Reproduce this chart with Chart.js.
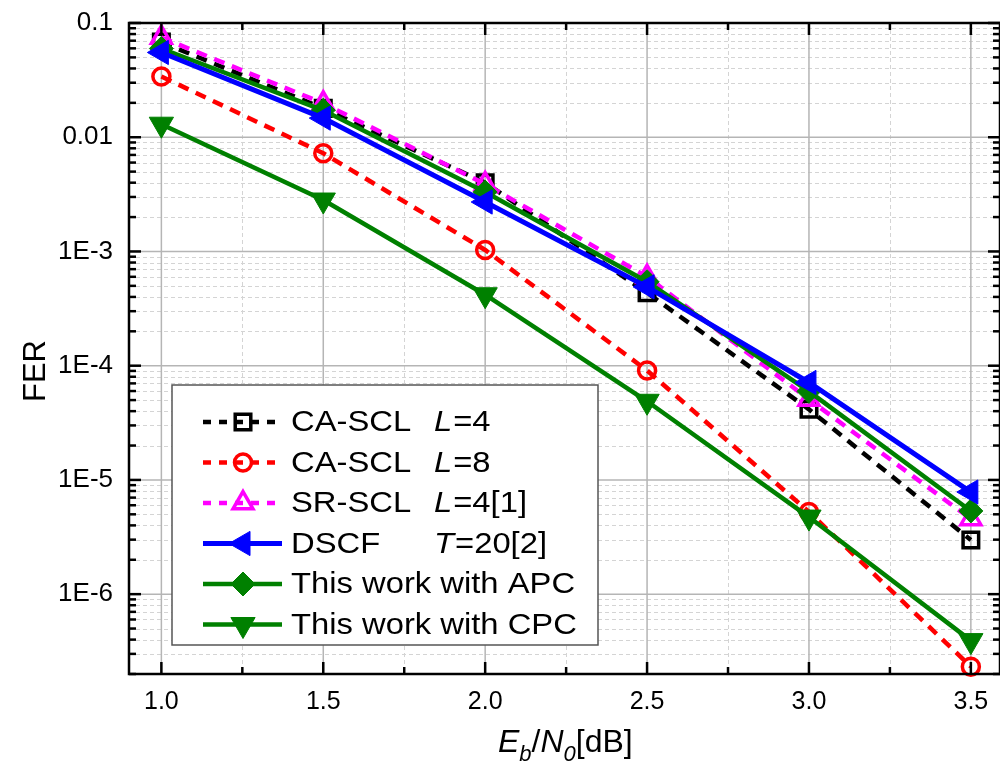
<!DOCTYPE html>
<html><head><meta charset="utf-8">
<script src="https://cdn.jsdelivr.net/npm/chart.js@4/dist/chart.umd.min.js"></script>
<style>html,body{margin:0;padding:0;background:#fff;overflow:hidden}canvas{display:block}</style>
</head><body><canvas id="c" width="1000" height="762"></canvas>
<script>
const ebno = [1.0, 1.5, 2.0, 2.5, 3.0, 3.5];
const caScl4 = [0.068, 0.0179, 0.0040, 4.35e-4, 4.15e-5, 2.98e-6];
const caScl8 = [0.034, 7.24e-3, 1.03e-3, 9.08e-5, 5.24e-6, 2.32e-7];
const srScl4 = [0.0746, 0.0198, 3.89e-3, 6.0e-4, 5.07e-5, 4.55e-6];
const dscf = [0.0552, 0.0147, 2.71e-3, 4.9e-4, 7.13e-5, 7.83e-6];
const apc = [0.0598, 0.0172, 3.31e-3, 5.43e-4, 5.96e-5, 5.35e-6];
const cpc = [0.013, 2.82e-3, 4.18e-4, 4.88e-5, 4.73e-6, 3.92e-7];
const xTicks = [1.0, 1.5, 2.0, 2.5, 3.0, 3.5];
const xMinorTicks = [1.25, 1.75, 2.25, 2.75, 3.25];
const yTicks = [0.1, 0.01, 1e-3, 1e-4, 1e-5, 1e-6];
const yTickLabels = ['0.1', '0.01', '1E-3', '1E-4', '1E-5', '1E-6'];
const legendNames = ['CA-SCL', 'CA-SCL', 'SR-SCL', 'DSCF', 'This work with APC', 'This work with CPC'];
const legendParamVar = ['L', 'L', 'L', 'T', '', ''];
const legendParamRest = ['=4', '=8', '=4[1]', '=20[2]', '', ''];
const drawOrder = [10, 9, 8, 6, 7, 5];

const FONT = '"Liberation Sans", Arial, sans-serif';
const GREEN = '#008000';

function pts(ys){ return ebno.map((x,i)=>({x, y: ys[i]})); }

const yMinor = [];
for (let k = -7; k <= -2; k++) for (let m = 2; m <= 9; m++) {
  const v = m * Math.pow(10, k);
  if (v >= 2e-7 && v < 0.1) yMinor.push(v);
}

function stretchText(ctx, t, x, y, font, sx) {
  ctx.save(); ctx.font = font; ctx.translate(x, y); ctx.scale(sx, 1); ctx.fillText(t, 0, 0);
  const w = ctx.measureText(t).width * sx; ctx.restore(); return w;
}

const decoPlugin = {
  id: 'deco',
  beforeDatasetsDraw(chart) {
    const {ctx, chartArea: a, scales: {x, y}} = chart;
    ctx.save();
    const ln = (x1,y1,x2,y2)=>{ctx.beginPath();ctx.moveTo(x1,y1);ctx.lineTo(x2,y2);ctx.stroke();};
    ctx.strokeStyle = '#d4d4d4'; ctx.lineWidth = 1; ctx.setLineDash([4,3]);
    xMinorTicks.forEach(v=>{const p=Math.round(x.getPixelForValue(v))+0.5; ln(p,a.top,p,a.bottom);});
    yMinor.forEach(v=>{const p=Math.round(y.getPixelForValue(v))+0.5; ln(a.left,p,a.right,p);});
    ctx.setLineDash([]); ctx.strokeStyle = '#b5b5b5'; ctx.lineWidth = 1.5;
    xTicks.forEach(v=>{const p=x.getPixelForValue(v); ln(p,a.top,p,a.bottom);});
    yTicks.forEach(v=>{const p=y.getPixelForValue(v); ln(a.left,p,a.right,p);});
    ctx.restore();
  },
  afterDatasetsDraw(chart) {
    const {ctx, chartArea: a, scales: {x, y}} = chart;
    ctx.save();
    const ln = (x1,y1,x2,y2)=>{ctx.beginPath();ctx.moveTo(x1,y1);ctx.lineTo(x2,y2);ctx.stroke();};
    ctx.strokeStyle = '#000'; ctx.lineWidth = 2.5; ctx.setLineDash([]);
    xTicks.forEach(v=>{const p=x.getPixelForValue(v); ln(p,a.bottom,p,a.bottom-12); ln(p,a.top,p,a.top+12);});
    xMinorTicks.forEach(v=>{const p=x.getPixelForValue(v); ln(p,a.bottom,p,a.bottom-7); ln(p,a.top,p,a.top+7);});
    yTicks.forEach(v=>{const p=y.getPixelForValue(v); ln(a.left,p,a.left+12,p); ln(a.right,p,a.right-12,p);});
    yMinor.forEach(v=>{const p=y.getPixelForValue(v); ln(a.left,p,a.left+7,p); ln(a.right,p,a.right-7,p);});
    ctx.strokeRect(a.left, a.top, a.right - a.left, a.bottom - a.top);

    const L = {left:172, top:385, right:598, bottom:645};
    ctx.fillStyle = '#fff';
    ctx.fillRect(L.left, L.top, L.right-L.left, L.bottom-L.top);
    ctx.strokeStyle = '#555'; ctx.lineWidth = 1.5;
    ctx.strokeRect(L.left, L.top, L.right-L.left, L.bottom-L.top);
    chart.data.datasets.forEach((ds, i) => {
      const cy = 422 + i * 40.5;
      ctx.save();
      ctx.strokeStyle = ds.borderColor; ctx.lineWidth = ds.borderWidth;
      ctx.setLineDash(ds.borderDash ? [8, 8] : []);
      ln(203, cy, 282, cy);
      ctx.setLineDash([]);
      ctx.fillStyle = ds.pointBackgroundColor; ctx.strokeStyle = ds.pointBorderColor;
      ctx.lineWidth = ds.pointBorderWidth;
      Chart.helpers.drawPoint(ctx, {pointStyle: ds.pointStyle, rotation: ds.pointRotation || 0,
        radius: ds.pointRadius, borderWidth: ds.pointBorderWidth}, 243, cy);
      ctx.restore();
      ctx.fillStyle = '#000'; ctx.textBaseline = 'middle'; ctx.textAlign = 'left';
      stretchText(ctx, legendNames[i], 291, cy + 1, '29px ' + FONT, 1.13);
      if (legendParamVar[i]) {
        const w = stretchText(ctx, legendParamVar[i], 434, cy + 1, 'italic 29px ' + FONT, 1.13);
        stretchText(ctx, legendParamRest[i], 434 + w + 1, cy + 1, '29px ' + FONT, 1.13);
      }
    });
    ctx.restore();
  },
  afterDraw(chart) {
    const ctx = chart.ctx;
    ctx.save();
    ctx.fillStyle = '#000';
    ctx.translate(36, 371); ctx.rotate(-Math.PI/2);
    ctx.font = '31px ' + FONT; ctx.textAlign = 'center'; ctx.textBaseline = 'middle';
    ctx.fillText('FER', 0, 0);
    ctx.restore();
    ctx.save();
    ctx.fillStyle = '#000'; ctx.textBaseline = 'alphabetic'; ctx.textAlign = 'left';
    let px = 498; const base = 752;
    const part = (t, font, dy) => { ctx.font = font; ctx.fillText(t, px, base + dy); px += ctx.measureText(t).width; };
    part('E', 'italic 32px ' + FONT, 0);
    part('b', 'italic 22px ' + FONT, 9);
    part('/', '32px ' + FONT, 0);
    part('N', 'italic 32px ' + FONT, 0);
    part('0', 'italic 22px ' + FONT, 9);
    part('[dB]', '32px ' + FONT, 0);
    ctx.restore();
  }
};

const open = 'rgba(0,0,0,0)';
new Chart(document.getElementById('c'), {
  type: 'line',
  data: {
    datasets: [
      {label:'CA-SCL L=4', data: pts(caScl4), borderColor:'#000', borderWidth:4.5, borderDash:[11,8],
       pointStyle:'rect', pointRadius:11, pointBorderWidth:3.5, pointBackgroundColor:open, pointBorderColor:'#000'},
      {label:'CA-SCL L=8', data: pts(caScl8), borderColor:'#ff0000', borderWidth:4.5, borderDash:[11,8],
       pointStyle:'circle', pointRadius:8.5, pointBorderWidth:3.5, pointBackgroundColor:open, pointBorderColor:'#ff0000'},
      {label:'SR-SCL L=4[1]', data: pts(srScl4), borderColor:'#ff00ff', borderWidth:4.5, borderDash:[11,8],
       pointStyle:'triangle', pointRadius:11.5, pointBorderWidth:3.5, pointBackgroundColor:open, pointBorderColor:'#ff00ff'},
      {label:'DSCF T=20[2]', data: pts(dscf), borderColor:'#0000ff', borderWidth:5,
       pointStyle:'triangle', pointRotation:270, pointRadius:14, pointBorderWidth:1, pointBackgroundColor:'#0000ff', pointBorderColor:'#0000ff'},
      {label:'This work with APC', data: pts(apc), borderColor:GREEN, borderWidth:4.5,
       pointStyle:'rectRot', pointRadius:12, pointBorderWidth:1, pointBackgroundColor:GREEN, pointBorderColor:GREEN},
      {label:'This work with CPC', data: pts(cpc), borderColor:GREEN, borderWidth:4.5,
       pointStyle:'triangle', pointRotation:180, pointRadius:14, pointBorderWidth:1, pointBackgroundColor:GREEN, pointBorderColor:GREEN}
    ].map((d, i)=>Object.assign({fill:false, tension:0, clip:30, order: drawOrder[i], pointHoverRadius:d.pointRadius}, d))
  },
  options: {
    responsive: false, maintainAspectRatio: false, animation: false,
    devicePixelRatio: 1,
    layout: {autoPadding: false, padding: {top: 23, right: 0, left: 0, bottom: 0}},
    plugins: {legend: {display: false}, tooltip: {enabled: false}},
    scales: {
      x: {
        type: 'linear', min: 0.9, max: 3.59,
        afterBuildTicks: s => { s.ticks = xTicks.map(v => ({value: v})); },
        afterFit: s => { s.height = 88; s.paddingLeft = 0; s.paddingRight = 0; },
        grid: {display: false, drawTicks: false}, border: {display: false},
        ticks: {callback: v => Number(v).toFixed(1), font: {size: 25, family: FONT}, color: '#000',
                padding: 13, maxRotation: 0, autoSkip: false}
      },
      y: {
        type: 'logarithmic', min: 2e-7, max: 0.1,
        afterBuildTicks: s => { s.ticks = yTicks.map(v => ({value: v})); },
        afterFit: s => { s.width = 129; s.paddingTop = 0; s.paddingBottom = 0; },
        grid: {display: false, drawTicks: false}, border: {display: false},
        ticks: {callback: v => { const i = yTicks.findIndex(t => Math.abs(Math.log10(t) - Math.log10(v)) < 1e-6); return i >= 0 ? yTickLabels[i] : ''; },
                font: {size: 26, family: FONT}, color: '#000', padding: 16, autoSkip: false}
      }
    }
  },
  plugins: [decoPlugin]
});
</script></body></html>
